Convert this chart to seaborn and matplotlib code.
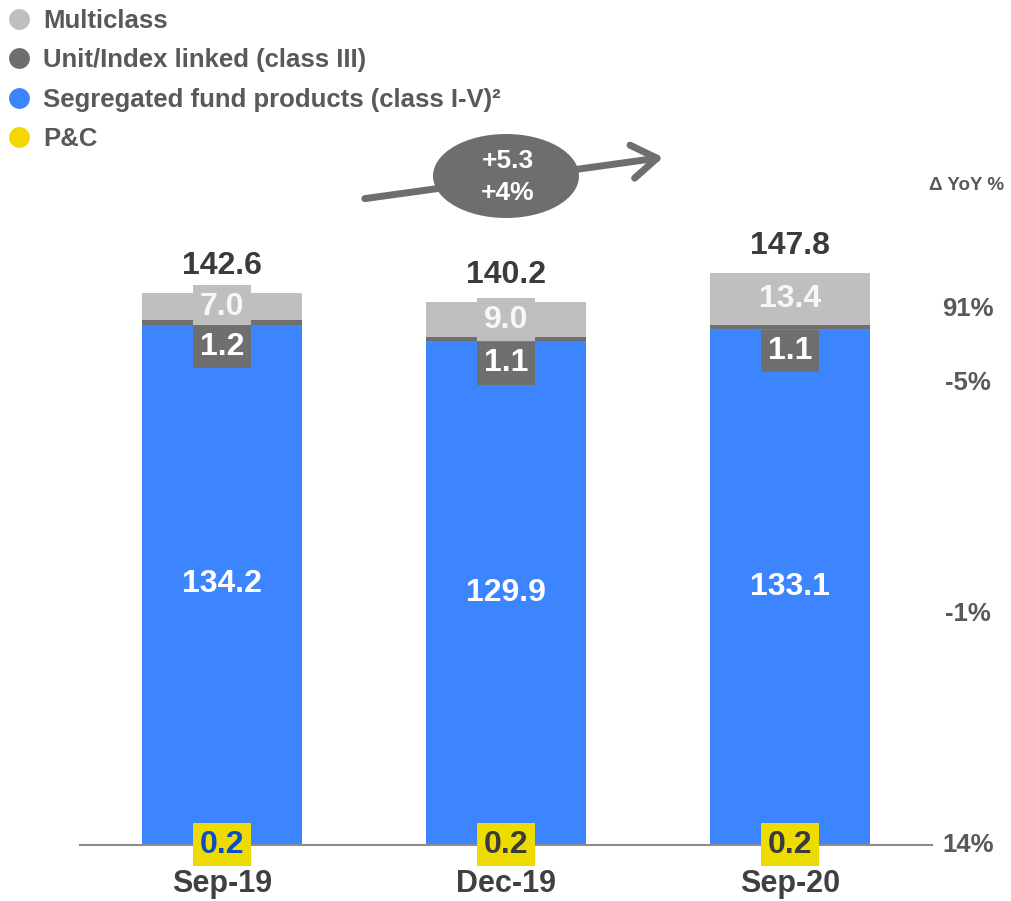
import matplotlib
matplotlib.use("Agg")
import matplotlib.pyplot as plt
import seaborn as sns
import pandas as pd
from matplotlib.lines import Line2D
from matplotlib.patches import Ellipse, FancyArrowPatch

# Reserves by product line (EUR bn)
periods = ["Sep-19", "Dec-19", "Sep-20"]
pc = [0.2, 0.2, 0.2]
segregated = [134.2, 129.9, 133.1]
unit_linked = [1.2, 1.1, 1.1]
multiclass = [7.0, 9.0, 13.4]

# Year-on-year change per line, top to bottom: multiclass, unit-linked, segregated, P&C
yoy_labels = ["91%", "-5%", "-1%", "14%"]
change_abs = "+5.3"
change_pct = "+4%"

series_names = ["Multiclass", "Unit/Index linked (class III)",
                "Segregated fund products (class I-V)\u00b2", "P&C"]

C_MULTI = "#BFBFBF"
C_UNIT = "#6F6F6F"
C_SEG = "#3D85FF"
C_PC = "#EEDC00"
C_TEXT = "#595959"
C_DARK = "#3B3B3B"

sns.set_theme(style="white")
plt.rcParams["font.family"] = ["Liberation Sans", "DejaVu Sans"]
plt.rcParams["font.weight"] = "bold"

W, H, DPI = 1012, 901, 100
fig = plt.figure(figsize=(W / DPI, H / DPI), dpi=DPI)
ax = fig.add_axes([80 / W, 56 / H, 852 / W, 845 / H])

df = pd.DataFrame({"period": periods, "pc": pc, "seg": segregated,
                   "unit": unit_linked, "multi": multiclass})
df["c1"] = df["pc"]
df["c2"] = df["c1"] + df["seg"]
df["c3"] = df["c2"] + df["unit"]
df["c4"] = df["c3"] + df["multi"]

# stacked bars: draw cumulative layers from the top down
for col, colr in [("c4", C_MULTI), ("c3", C_UNIT), ("c2", C_SEG), ("c1", C_PC)]:
    sns.barplot(data=df, x="period", y=col, order=periods, color=colr,
                saturation=1, width=0.56, errorbar=None, linewidth=0, ax=ax)

ax.set_xlim(-0.5, 2.5)
ax.set_ylim(0, 845 / 3.871)
ax.set_xlabel("")
ax.set_ylabel("")
ax.set_yticks([])
for s in ["left", "right", "top"]:
    ax.spines[s].set_visible(False)
ax.spines["bottom"].set_color("#8C8C8C")
ax.spines["bottom"].set_linewidth(1.5)
ax.tick_params(axis="x", length=0, pad=17, labelsize=22, labelcolor="#404040")
for t in ax.get_xticklabels():
    t.set_fontweight("bold")

FS = 23
for i, r in df.iterrows():
    # segregated value in the middle of the blue block
    ax.text(i, r["c1"] + r["seg"] / 2, f"{r['seg']:.1f}", ha="center", va="center",
            color="white", fontsize=FS, fontweight="bold")
    # multiclass value on a light grey tag
    ax.text(i, r["c3"] + r["multi"] / 2, f"{r['multi']:.1f}", ha="center", va="center",
            color="#F7F7F7", fontsize=FS, fontweight="bold", zorder=5,
            bbox=dict(boxstyle="square,pad=0.2", fc=C_MULTI, ec="none"))
    # unit-linked value on a dark grey tag just below its thin band
    ax.annotate(f"{r['unit']:.1f}", xy=(i, r["c2"]), xytext=(0, -22),
                textcoords="offset pixels", ha="center", va="center",
                color="white", fontsize=FS, fontweight="bold", zorder=5,
                bbox=dict(boxstyle="square,pad=0.2", fc=C_UNIT, ec="none"))
    # P&C value on a yellow tag at the base
    ax.text(i, r["c1"] / 2, f"{r['pc']:.1f}", ha="center", va="center",
            color="#0A4FC8" if i == 0 else C_DARK, fontsize=FS, fontweight="bold",
            zorder=6, clip_on=False,
            bbox=dict(boxstyle="square,pad=0.2", fc=C_PC, ec="none"))
    # total above the bar
    ax.annotate(f"{r['c4']:.1f}", xy=(i, r["c4"]), xytext=(0, 19),
                textcoords="offset pixels", ha="center", va="baseline",
                color=C_DARK, fontsize=FS, fontweight="bold")


def fx(px):
    return px / W


def fy(py):
    return 1 - py / H


# year-on-year column on the right
fig.text(fx(967), fy(186), "\u0394 YoY %", ha="center", va="center",
         fontsize=13.5, color=C_TEXT, fontweight="bold")
for lab, py in zip(yoy_labels, [309, 383, 614, 845]):
    fig.text(fx(968), fy(py), lab, ha="center", va="center",
             fontsize=18.5, color=C_TEXT, fontweight="bold")

# growth arrow with the change bubble
arrow = FancyArrowPatch((fx(362), fy(199)), (fx(666), fy(157)),
                        transform=fig.transFigure,
                        arrowstyle="->,head_length=0.45,head_width=0.3",
                        mutation_scale=40, lw=5, color="#6E6E6E")
fig.add_artist(arrow)
bubble = Ellipse((fx(506), fy(176)), width=146 / W, height=84 / H,
                 transform=fig.transFigure, fc="#6E6E6E", ec="none", zorder=3)
fig.add_artist(bubble)
fig.text(fx(508), fy(177), f"{change_abs}\n{change_pct}", ha="center", va="center",
         fontsize=19, color="white", fontweight="bold", linespacing=1.45, zorder=4)

# legend with round markers
handles = [Line2D([], [], marker="o", linestyle="", markersize=15,
                  markerfacecolor=c, markeredgecolor="none")
           for c in [C_MULTI, C_UNIT, C_SEG, "#F2D700"]]
leg = fig.legend(handles, series_names, loc="upper left",
                 bbox_to_anchor=(fx(6), fy(9)), frameon=False,
                 prop=dict(size=18.5, weight="bold"), labelcolor=C_TEXT,
                 handletextpad=0.45, labelspacing=0.6, borderaxespad=0,
                 handlelength=1.0, borderpad=0)

fig.savefig("out.png", dpi=DPI)
